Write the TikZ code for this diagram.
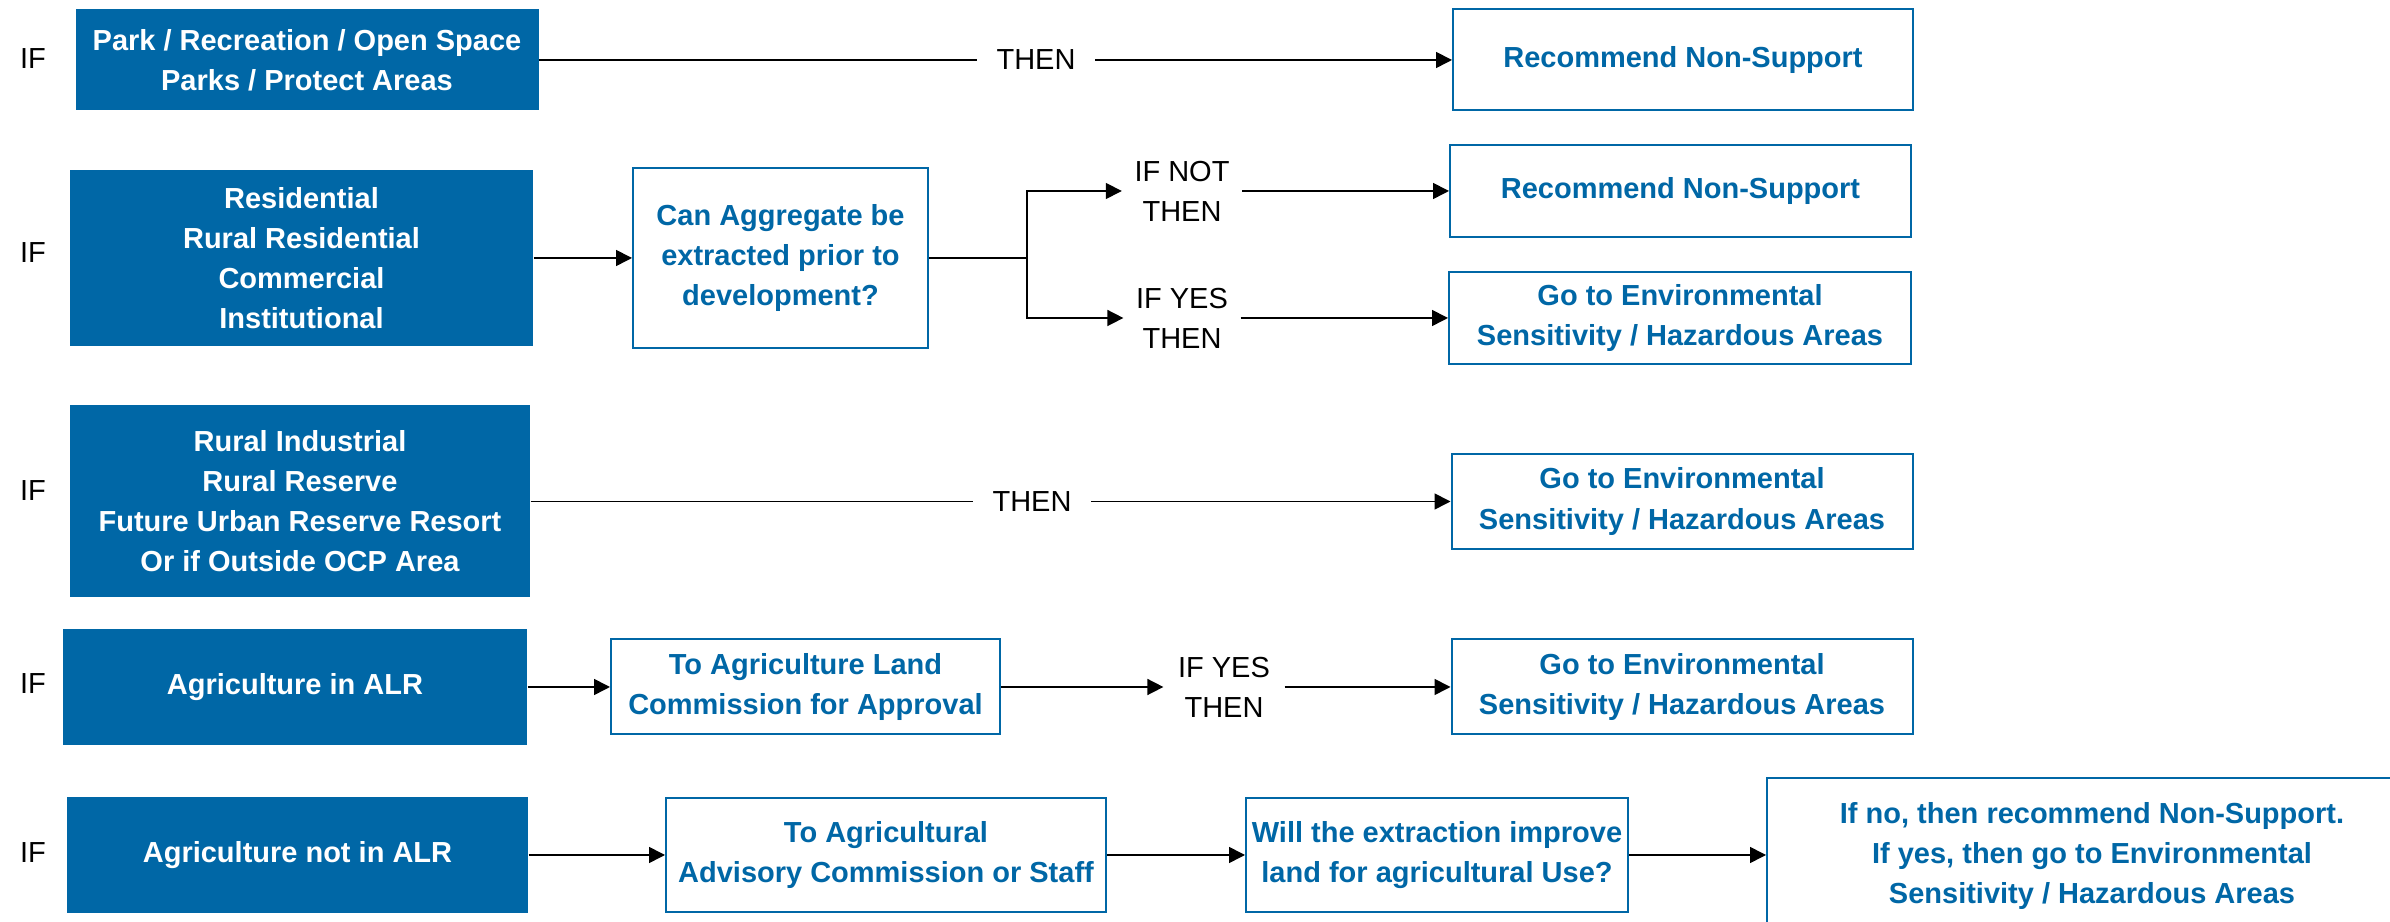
\documentclass[tikz,border=0pt]{standalone}
\usepackage{fontspec}
\setmainfont{Liberation Sans}
\usetikzlibrary{arrows.meta}

\definecolor{zoneblue}{RGB}{0,103,166}

\begin{document}
\begin{tikzpicture}[
  font=\fontsize{8.25}{11.4}\selectfont,
  zone/.style={fill=zoneblue, text=white, font=\fontsize{8.25}{11.4}\selectfont\bfseries,
    align=center, inner sep=1pt},
  action/.style={draw=zoneblue, line width=0.57pt, fill=white, text=zoneblue,
    font=\fontsize{8.25}{11.4}\selectfont\bfseries, align=center, inner sep=1pt},
  cond/.style={align=center, inner sep=0.12cm},
  link/.style={line width=0.45pt},
  arr/.style={link, -{Triangle[length=0.16cm, width=0.16cm]}}
]

% page size, the last box runs off the edge
\useasboundingbox (0,0) rectangle (23.9,-9.22);
\clip (0,0) rectangle (23.9,-9.22);

% IF labels down the left side
\foreach \n/\y in {1/-0.59, 2/-2.53, 3/-4.91, 4/-6.84, 5/-8.53}
  \node (if\n) at (0.33,\y) {IF};

% Row 1: parks
\node[zone, minimum width=4.63cm, minimum height=1.01cm] (park) at (3.07,-0.60)
  {Park / Recreation / Open Space\\Parks / Protect Areas};
\node[cond, inner xsep=0.19cm] (then1) at (10.36,-0.60) {THEN};
\node[action, minimum width=4.60cm, minimum height=1.01cm] (nosup1) at (16.83,-0.60)
  {Recommend Non-Support};
\draw[link] (park.east) -- (then1.west);
\draw[arr] (then1.east) -- (nosup1.west);

% Row 2: residential
\node[zone, minimum width=4.63cm, minimum height=1.76cm] (resid) at (3.015,-2.58)
  {Residential\\Rural Residential\\Commercial\\Institutional};
\node[action, minimum width=2.95cm, minimum height=1.80cm] (extract) at (7.805,-2.58)
  {Can Aggregate be\\extracted prior to\\development?};
\coordinate (fork) at (10.27,-2.58);
\node[cond] (ifnot) at (11.82,-1.91) {IF NOT\\THEN};
\node[cond] (ifyes2) at (11.82,-3.18) {IF YES\\THEN};
\node[action, minimum width=4.61cm, minimum height=0.92cm] (nosup2) at (16.805,-1.91)
  {Recommend Non-Support};
\node[action, minimum width=4.62cm, minimum height=0.92cm] (env1) at (16.80,-3.18)
  {Go to Environmental\\Sensitivity / Hazardous Areas};
\draw[arr] (resid.east) -- (extract.west);
\draw[link] (extract.east) -- (fork);
\draw[arr] (fork) |- (ifnot.west);
\draw[arr] (fork) |- (ifyes2.west);
\draw[arr] (ifnot.east) -- (nosup2.west);
\draw[arr] (ifyes2.east) -- (env1.west);

% Row 3: industrial / reserve
\node[zone, minimum width=4.60cm, minimum height=1.92cm] (indust) at (3.00,-5.015)
  {Rural Industrial\\Rural Reserve\\Future Urban Reserve Resort\\Or if Outside OCP Area};
\node[cond, inner xsep=0.19cm] (then3) at (10.32,-5.015) {THEN};
\node[action, minimum width=4.61cm, minimum height=0.95cm] (env2) at (16.82,-5.015)
  {Go to Environmental\\Sensitivity / Hazardous Areas};
\draw[link] (indust.east) -- (then3.west);
\draw[arr] (then3.east) -- (env2.west);

% Row 4: agriculture in ALR
\node[zone, minimum width=4.64cm, minimum height=1.16cm] (alr) at (2.95,-6.87)
  {Agriculture in ALR};
\node[action, minimum width=3.89cm, minimum height=0.95cm] (alc) at (8.055,-6.87)
  {To Agriculture Land\\Commission for Approval};
\node[cond, inner xsep=0.14cm] (ifyes4) at (12.24,-6.87) {IF YES\\THEN};
\node[action, minimum width=4.61cm, minimum height=0.95cm] (env3) at (16.82,-6.87)
  {Go to Environmental\\Sensitivity / Hazardous Areas};
\draw[arr] (alr.east) -- (alc.west);
\draw[arr] (alc.east) -- (ifyes4.west);
\draw[arr] (ifyes4.east) -- (env3.west);

% Row 5: agriculture outside ALR
\node[zone, minimum width=4.61cm, minimum height=1.16cm] (notalr) at (2.975,-8.55)
  {Agriculture not in ALR};
\node[action, minimum width=4.40cm, minimum height=1.14cm] (aac) at (8.86,-8.55)
  {To Agricultural\\Advisory Commission or Staff};
\node[action, minimum width=3.82cm, minimum height=1.14cm] (improve) at (14.37,-8.55)
  {Will the extraction improve\\land for agricultural Use?};
\node[action, minimum width=6.50cm, minimum height=1.56cm] (decide) at (20.92,-8.56)
  {If no, then recommend Non-Support.\\If yes, then go to Environmental\\Sensitivity / Hazardous Areas};
\draw[arr] (notalr.east) -- (aac.west);
\draw[arr] (aac.east) -- (improve.west);
\draw[arr] (improve.east) -- (improve.east -| decide.west);

\end{tikzpicture}
\end{document}
